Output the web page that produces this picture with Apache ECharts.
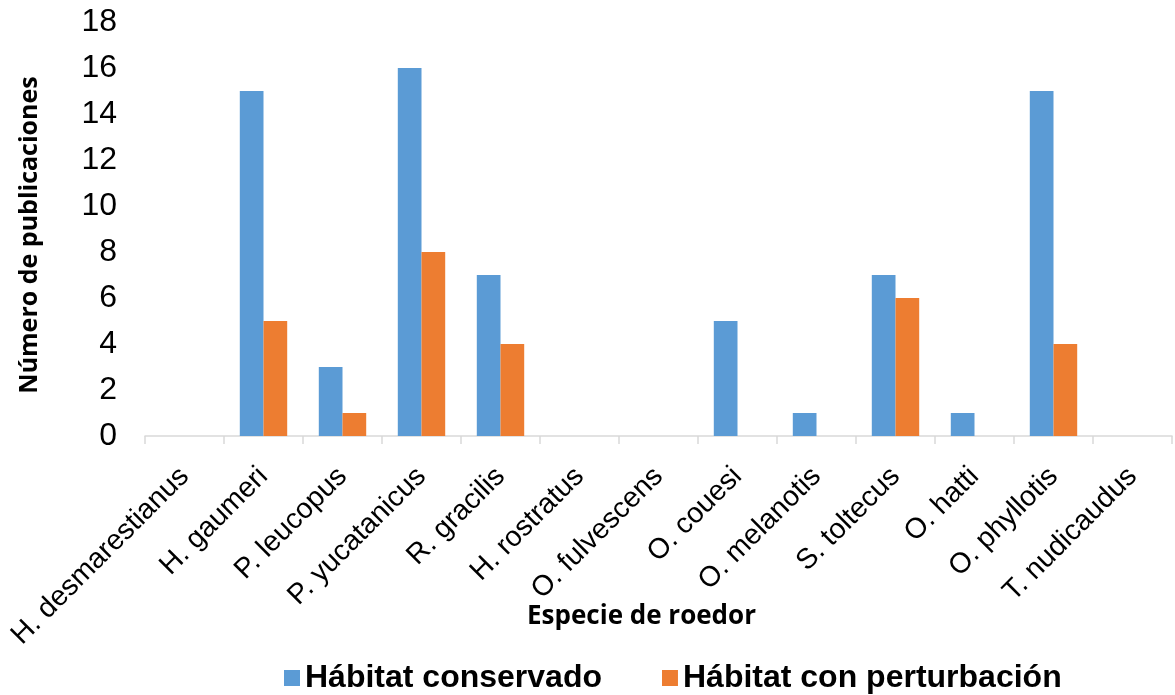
<!DOCTYPE html>
<html><head><meta charset="utf-8">
<script src="https://cdn.jsdelivr.net/npm/echarts@6/dist/echarts.min.js"></script>
<style>html,body{margin:0;padding:0;background:#fff}#c{width:1175px;height:695px}</style>
</head><body><div id="c"></div>
<script>
const categories = ['H. desmarestianus','H. gaumeri','P. leucopus','P. yucatanicus','R. gracilis','H. rostratus','O. fulvescens','O. couesi','O. melanotis','S. toltecus','O. hatti','O. phyllotis','T. nudicaudus'];
const conservado = [0,15,3,16,7,0,0,5,1,7,1,15,0];
const perturbacion = [0,5,1,8,4,0,0,0,0,6,0,4,0];
const seriesNames = ['Hábitat conservado','Hábitat con perturbación'];
const chart = echarts.init(document.getElementById('c'));
chart.setOption({
  animation:false,
  grid:{left:145,right:3,top:22,bottom:259,containLabel:false},
  legend:{top:657,left:279,itemWidth:16,itemHeight:16,itemGap:60,icon:'rect',
    textStyle:{fontFamily:'Liberation Sans, Arial',fontWeight:'bold',fontSize:32,color:'#000',lineHeight:32},
    data:seriesNames},
  xAxis:{type:'category',data:categories,
    name:'Especie de roedor',nameLocation:'middle',nameGap:168,nameMoveOverlap:false,
    nameTextStyle:{fontFamily:'Open Sans',fontWeight:'bold',fontSize:26,color:'#000',padding:[0,34,0,0]},
    axisLine:{lineStyle:{color:'#d9d9d9',width:1.5}},
    axisTick:{show:true,length:8,lineStyle:{color:'#d9d9d9',width:1.5}},
    axisLabel:{rotate:45,fontFamily:'Liberation Sans, Arial',fontSize:28.5,color:'#000',margin:36,interval:0}},
  yAxis:{type:'value',min:0,max:18,interval:2,
    name:'Número de publicaciones',nameLocation:'middle',nameGap:103,nameMoveOverlap:false,
    nameTextStyle:{fontFamily:'Open Sans',fontWeight:'bold',fontSize:25,color:'#000',padding:[0,12,0,0]},
    axisLine:{show:false},axisTick:{show:false},splitLine:{show:false},
    axisLabel:{fontFamily:'Liberation Sans, Arial',fontSize:32,color:'#000',margin:28}},
  series:[
    {name:seriesNames[0],type:'bar',data:conservado,barWidth:'30%',barGap:'0%',itemStyle:{color:'#5B9BD5'}},
    {name:seriesNames[1],type:'bar',data:perturbacion,barWidth:'30%',itemStyle:{color:'#ED7D31'}}
  ]
});
</script></body></html>
